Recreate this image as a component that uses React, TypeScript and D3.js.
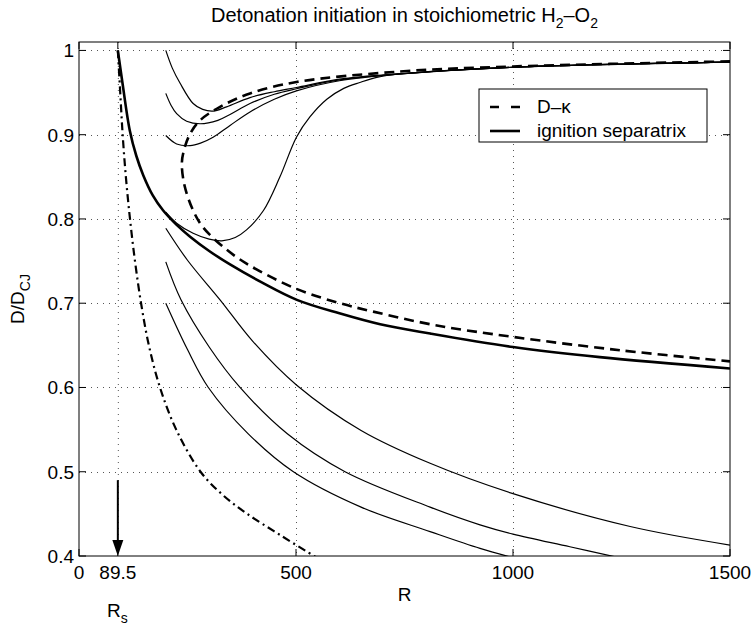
import React from "react";
import * as d3 from "d3";

const W = 754;
const H = 630;
const PL = 79, PR = 730, PT = 42, PB = 556;

const xDomain = [0, 1500];
const yDomain = [0.4, 1.01];
const xTicks = [0, 89.5, 500, 1000, 1500];
const xTickLabels = ["0", "89.5", "500", "1000", "1500"];
const yTicks = [0.4, 0.5, 0.6, 0.7, 0.8, 0.9, 1.0];
const yTickLabels = ["0.4", "0.5", "0.6", "0.7", "0.8", "0.9", "1"];

const Rs = 89.5;
const arrowFrom = 0.49;
const arrowTo = 0.4;

// ignition separatrix (thick solid)
const separatrix: [number, number][] = [
  [89.5, 1.0], [100, 0.962], [117, 0.905], [132, 0.875], [148, 0.852], [170, 0.828],
  [194, 0.81], [225, 0.793], [256, 0.779], [300, 0.762], [348, 0.746], [420, 0.725],
  [502, 0.704], [600, 0.688], [694, 0.675], [809, 0.664], [1000, 0.648], [1200, 0.636],
  [1500, 0.6226],
];

// D-kappa curve (thick dashed), C-shaped
const dKappa: [number, number][] = [
  [1500, 0.987], [1000, 0.981], [740, 0.975], [501, 0.9625], [394, 0.949], [325, 0.933],
  [279, 0.917], [256, 0.901], [242, 0.882], [237, 0.866], [243, 0.84], [263, 0.81],
  [286, 0.79], [332, 0.767], [386, 0.747], [501, 0.717], [601, 0.7], [678, 0.69],
  [820, 0.674], [1000, 0.66], [1250, 0.644], [1500, 0.631],
];

// dash-dot curve from R_s
const dashDot: [number, number][] = [
  [89.5, 1.0], [95, 0.95], [100.6, 0.9], [108, 0.85], [117.5, 0.8], [129, 0.75],
  [143, 0.7], [161, 0.65], [186.6, 0.6], [224, 0.55], [280, 0.5], [330, 0.473],
  [386, 0.4506], [463, 0.425], [548, 0.398],
];

// thin solution curves
const curveA: [number, number][] = [
  [200, 1.0], [215, 0.979], [233, 0.961], [263, 0.937], [285, 0.93], [309, 0.928],
  [340, 0.933], [394, 0.944], [450, 0.951], [501, 0.956], [600, 0.966], [740, 0.9725],
  [1000, 0.98], [1500, 0.986],
];
const curveB: [number, number][] = [
  [200, 0.949], [212, 0.935], [225, 0.925], [248, 0.916], [279, 0.913], [320, 0.917],
  [348, 0.924], [394, 0.937], [450, 0.948], [501, 0.9545], [600, 0.965], [740, 0.972],
  [1000, 0.98], [1500, 0.986],
];
const curveC: [number, number][] = [
  [200, 0.899], [225, 0.889], [256, 0.887], [280, 0.89], [309, 0.897], [348, 0.911],
  [394, 0.927], [450, 0.942], [501, 0.952], [600, 0.964], [740, 0.972], [1000, 0.98],
  [1500, 0.986],
];
const curveD: [number, number][] = [
  [200, 0.808], [225, 0.795], [263, 0.783], [300, 0.776], [329, 0.774], [360, 0.778],
  [386, 0.787], [425, 0.81], [463, 0.85], [501, 0.897], [532, 0.921], [571, 0.942],
  [610, 0.955], [647, 0.962], [686, 0.968], [740, 0.972], [1000, 0.98], [1500, 0.986],
];
const curveE: [number, number][] = [
  [200, 0.789], [250, 0.751], [325, 0.704], [400, 0.655], [501, 0.603], [650, 0.549],
  [809, 0.51], [1000, 0.474], [1270, 0.435], [1500, 0.413],
];
const curveF: [number, number][] = [
  [200, 0.749], [235, 0.704], [300, 0.648], [371, 0.6], [480, 0.545], [613, 0.5],
  [809, 0.458], [924, 0.437], [1000, 0.426], [1131, 0.411], [1240, 0.3985],
];
const curveG: [number, number][] = [
  [200, 0.7], [250, 0.645], [298, 0.6], [390, 0.545], [494, 0.5], [650, 0.458],
  [809, 0.429], [924, 0.409], [1000, 0.398],
];
const thinCurves = [curveA, curveB, curveC, curveD, curveE, curveF, curveG];

const legendLabels = ["D\u2013\u03BA", "ignition separatrix"];

const FONT = "'Liberation Sans', Arial, Helvetica, sans-serif";

export default function App() {
  const x = d3.scaleLinear().domain(xDomain).range([PL, PR]);
  const y = d3.scaleLinear().domain(yDomain).range([PB, PT]);
  const line = d3
    .line<[number, number]>()
    .x((d) => x(d[0]))
    .y((d) => y(d[1]))
    .curve(d3.curveCatmullRom.alpha(0.5));

  const tickLen = 7;
  const fs = 19;

  const ax = x(Rs);
  const ay0 = y(arrowFrom);
  const ay1 = y(arrowTo);

  return (
    <svg
      width={W}
      height={H}
      style={{ display: "block", position: "absolute", left: 0, top: 0, background: "#fff" }}
      fontFamily={FONT}
    >
      <defs>
        <clipPath id="plotclip">
          <rect x={PL} y={PT} width={PR - PL} height={PB - PT} />
        </clipPath>
      </defs>
      <rect x={0} y={0} width={W} height={H} fill="#fff" />
      {/* grid */}
      <g stroke="#555" strokeWidth={1} strokeDasharray="1 5">
        {xTicks.filter((t) => t > xDomain[0] && t < xDomain[1]).map((t) => (
          <line key={"gx" + t} x1={x(t) + 0.5} x2={x(t) + 0.5} y1={PT} y2={PB} />
        ))}
        {yTicks.filter((t) => t > yDomain[0]).map((t) => (
          <line key={"gy" + t} x1={PL} x2={PR} y1={Math.round(y(t)) + 0.5} y2={Math.round(y(t)) + 0.5} />
        ))}
      </g>
      {/* curves */}
      <g clipPath="url(#plotclip)" fill="none" stroke="#000">
        {thinCurves.map((c, i) => (
          <path key={"c" + i} d={line(c) || ""} strokeWidth={1.2} />
        ))}
        <path d={line(dashDot) || ""} strokeWidth={2.2} strokeDasharray="8 4 2 4" />
        <path d={line(dKappa) || ""} strokeWidth={2.6} strokeDasharray="10 6" />
        <path d={line(separatrix) || ""} strokeWidth={2.6} />
      </g>
      {/* arrow */}
      <line x1={ax} x2={ax} y1={ay0} y2={ay1 - 14} stroke="#000" strokeWidth={2} />
      <path d={`M${ax - 5.5},${ay1 - 16} L${ax + 5.5},${ay1 - 16} L${ax},${ay1} Z`} fill="#000" />
      {/* axes box */}
      <rect x={PL} y={PT} width={PR - PL} height={PB - PT} fill="none" stroke="#000" strokeWidth={1} />
      {/* ticks */}
      <g stroke="#000" strokeWidth={1}>
        {xTicks.map((t) => (
          <g key={"tx" + t}>
            <line x1={x(t)} x2={x(t)} y1={PB} y2={PB - tickLen} />
            <line x1={x(t)} x2={x(t)} y1={PT} y2={PT + tickLen} />
          </g>
        ))}
        {yTicks.map((t) => (
          <g key={"ty" + t}>
            <line x1={PL} x2={PL + tickLen} y1={y(t)} y2={y(t)} />
            <line x1={PR} x2={PR - tickLen} y1={y(t)} y2={y(t)} />
          </g>
        ))}
      </g>
      {/* tick labels */}
      <g fontSize={fs} fill="#000">
        {xTicks.map((t, i) => (
          <text key={"lx" + t} x={x(t)} y={579} textAnchor="middle">
            {xTickLabels[i]}
          </text>
        ))}
        {yTicks.map((t, i) => (
          <text key={"ly" + t} x={74} y={y(t) + 7} textAnchor="end">
            {yTickLabels[i]}
          </text>
        ))}
      </g>
      {/* axis labels */}
      <text x={(PL + PR) / 2} y={601} textAnchor="middle" fontSize={fs}>R</text>
      <text x={107} y={617} fontSize={fs}>
        R<tspan fontSize={14} dy={6}>s</tspan>
      </text>
      <text transform={`translate(24, ${(PT + PB) / 2}) rotate(-90)`} textAnchor="middle" fontSize={fs}>
        D/D<tspan fontSize={14} dy={6}>CJ</tspan>
      </text>
      {/* title */}
      <text x={(PL + PR) / 2} y={22} textAnchor="middle" fontSize={20}>
        Detonation initiation in stoichiometric H<tspan fontSize={14} dy={6}>2</tspan>
        <tspan dy={-6}>{"\u2013O"}</tspan>
        <tspan fontSize={14} dy={6}>2</tspan>
      </text>
      {/* legend */}
      <rect x={479} y={89} width={228} height={53} fill="#fff" stroke="#000" strokeWidth={1} />
      <line x1={490} x2={520} y1={107} y2={107} stroke="#000" strokeWidth={2.6} strokeDasharray="9 12" />
      <line x1={490} x2={520} y1={131} y2={131} stroke="#000" strokeWidth={2.6} />
      <text x={537} y={113} fontSize={fs}>{legendLabels[0]}</text>
      <text x={537} y={137} fontSize={fs}>{legendLabels[1]}</text>
    </svg>
  );
}
